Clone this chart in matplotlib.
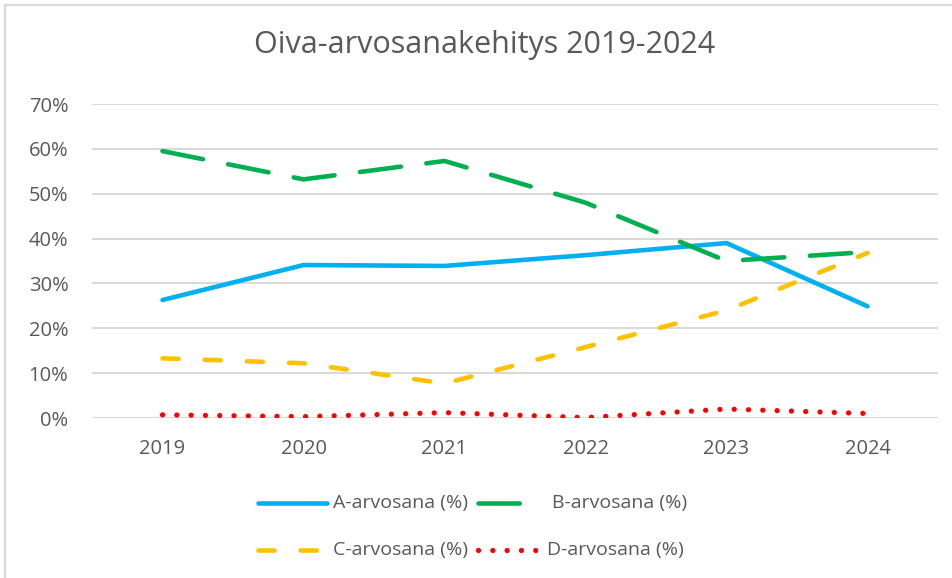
import numpy as np
import matplotlib
matplotlib.use("Agg")
import matplotlib.pyplot as plt
from matplotlib.ticker import PercentFormatter
from matplotlib.lines import Line2D

plt.rcParams['font.family'] = ['Open Sans', 'DejaVu Sans']

# Data
years = ['2019', '2020', '2021', '2022', '2023', '2024']
grade_a = [26.3, 34.1, 33.9, 36.3, 39.0, 24.9]
grade_b = [59.5, 53.2, 57.3, 48.0, 35.0, 37.0]
grade_c = [13.3, 12.2, 7.7, 15.8, 24.0, 36.8]
grade_d = [0.7, 0.3, 1.2, 0.1, 2.0, 1.0]
labels = ['A-arvosana (%)', 'B-arvosana (%)', 'C-arvosana (%)', 'D-arvosana (%)']

W, H = 952, 578
fig = plt.figure(figsize=(W / 100, H / 100), dpi=100)
ax = fig.add_axes([92 / W, 1 - 418 / H, (938 - 92) / W, (418 - 104) / H])

text_col = '#595959'
grid_col = '#d9d9d9'
lw = 3.3

x = np.arange(len(years))
styles = [
    dict(color='#00b0f0', linestyle='-'),
    dict(color='#00b050', linestyle=(0, (9.0, 5.6))),
    dict(color='#ffc000', linestyle=(0, (3.5, 5.7))),
    dict(color='#ff0000', linestyle=(0, (0.01, 2.7))),
]
series = [grade_a, grade_b, grade_c, grade_d]
for vals, st, lab in zip(series, styles, labels):
    w = lw + 0.5 if st['color'] == '#ff0000' else lw
    ax.plot(x, vals, lw=w, dash_capstyle='round', solid_capstyle='round',
            solid_joinstyle='round', label=lab, **st)

ax.set_xlim(-0.5, len(years) - 0.5)
ax.set_ylim(0, 70)
ax.set_yticks(np.arange(0, 71, 10))
ax.yaxis.set_major_formatter(PercentFormatter(decimals=0))
ax.set_xticks(x)
ax.set_xticklabels(years)
ax.grid(axis='y', color=grid_col, lw=1.5)
ax.set_axisbelow(True)
for s in ax.spines.values():
    s.set_visible(False)
ax.tick_params(length=0, colors=text_col, labelsize=14.5)
ax.tick_params(axis='y', pad=17)
ax.tick_params(axis='x', pad=15)

fig.text(485 / W, 1 - 53 / H, 'Oiva-arvosanakehitys 2019-2024', ha='center', va='baseline',
         fontsize=22, color=text_col)

# legend, 2 columns: (series, handle start, handle end, text x, row y)
leg_items = [(0, 258, 327, 333, 503), (1, 478, 524, 552, 503),
             (2, 258, 324, 333, 550), (3, 478, 544, 547, 550)]
for idx, lx0, lx1, tx, ly in leg_items:
    st = styles[idx]
    w = lw + 0.5 if idx == 3 else lw
    fig.add_artist(Line2D([lx0 / W, lx1 / W], [1 - ly / H, 1 - ly / H], lw=w,
                          dash_capstyle='round', solid_capstyle='round', **st))
    fig.text(tx / W, 1 - ly / H, labels[idx], ha='left', va='center', fontsize=14,
             color=text_col)

# chart border (left and top)
fig.add_artist(Line2D([5 / W, 5 / W], [0, 1 - 5 / H], color=grid_col, lw=1.6))
fig.add_artist(Line2D([5 / W, 1], [1 - 5 / H, 1 - 5 / H], color=grid_col, lw=1.6))

fig.savefig('out.png', dpi=100)
